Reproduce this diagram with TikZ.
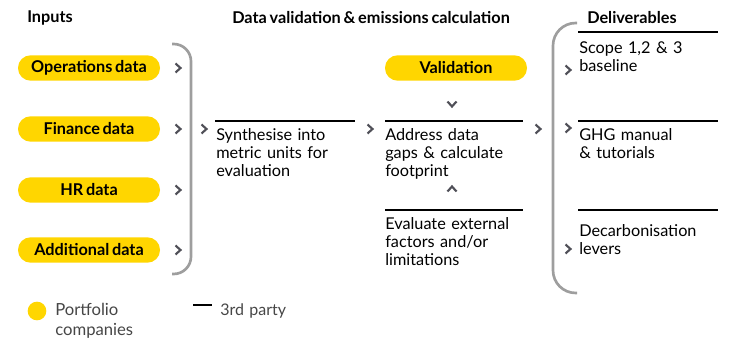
\documentclass[tikz,border=0pt]{standalone}
\usepackage{fontspec}
\setmainfont{Lato}[WordSpace=0.7]
\usetikzlibrary{positioning}
\definecolor{eyyellow}{RGB}{255,214,0}
\definecolor{bracegray}{RGB}{158,158,158}
\definecolor{chevgray}{RGB}{80,80,88}
\definecolor{legendgray}{RGB}{70,70,70}
\tikzset{
  pill/.style={fill=eyyellow, rounded corners=9.4pt, minimum width=106.5pt, minimum height=19pt, inner sep=0pt, font=\bfseries\fontsize{12.2}{13.5}\selectfont},
  head/.style={inner sep=0pt, anchor=west, font=\bfseries\fontsize{12.2}{13.5}\selectfont},
  body/.style={inner sep=0pt, anchor=north west, align=left, text width=112pt, font=\fontsize{12.2}{13.5}\selectfont},
  rule/.style={line width=1.7pt},
  brace/.style={draw=bracegray, line width=2pt},
  chev/.pic={\draw[chevgray, line width=1.6pt] (-2.5,-4.5) -- (2.5,0) -- (-2.5,4.5);}
}
\begin{document}
\begin{tikzpicture}[x=0.75pt,y=-0.75pt]
    \useasboundingbox (0,0) rectangle (733,342);
    % headings
    \node[head] (Inputs) at (27,18) {Inputs};
    \node[head] (DataVal) at (232,18) {Data validation \& emissions calculation};
    \node[head] (Deliverables) at (587,18) {Deliverables};
    % inputs
    \node[pill] (Operations) at (89,68) {Operations data};
    \node[pill] (Finance) at (89,129) {Finance data};
    \node[pill] (HR) at (89,190) {HR data};
    \node[pill] (Additional) at (89,250) {Additional data};
    \foreach \y in {68,129,190,250}
        \pic at (178,\y) {chev};
    \draw[brace, rounded corners=13pt] (172,44) -- (191,44) -- (191,274) -- (172,274);
    \pic at (204,129) {chev};
    % data validation
    \draw[rule] (215,121) -- (355,121);
    \node[body] (Synthesise) at (216,128) {Synthesise into\\metric units for\\evaluation};
    \pic at (370,129) {chev};
    \node[pill] (Validation) at (456,68) {Validation};
    \pic[rotate=-90] at (452,104) {chev};
    \draw[rule] (385,121) -- (523,121);
    \node[body] (Address) at (385,128) {Address data\\gaps \& calculate\\footprint};
    \pic[rotate=90] at (452,189) {chev};
    \draw[rule] (385,210) -- (523,210);
    \node[body] (Evaluate) at (385,217) {Evaluate external\\factors and/or\\limitations};
    \pic at (538,129) {chev};
    % deliverables
    \draw[brace, rounded corners=17pt] (577,23) -- (553,23) -- (553,293) -- (577,293);
    \draw[rule] (578,32) -- (718,32);
    \node[body] (Scope) at (579,41) {Scope 1,2 \& 3\\baseline};
    \pic at (568,70) {chev};
    \draw[rule] (578,121) -- (718,121);
    \node[body] (GHG) at (579,128) {GHG manual\\\& tutorials};
    \pic at (568,128) {chev};
    \draw[rule] (578,210) -- (718,210);
    \node[body] (Decarb) at (579,224) {Decarbonisation\\levers};
    \pic at (568,249) {chev};
    % legend
    \fill[eyyellow] (37,311) circle (7pt);
    \node[body, text=legendgray, font=\fontsize{12.5}{15}\selectfont] (Portfolio) at (55,303) {Portfolio\\companies};
    \draw[rule] (193,305) -- (212,305);
    \node[body, text=legendgray, anchor=west, font=\fontsize{12}{15}\selectfont] (ThirdParty) at (220,311) {3rd party};
\end{tikzpicture}
\end{document}
